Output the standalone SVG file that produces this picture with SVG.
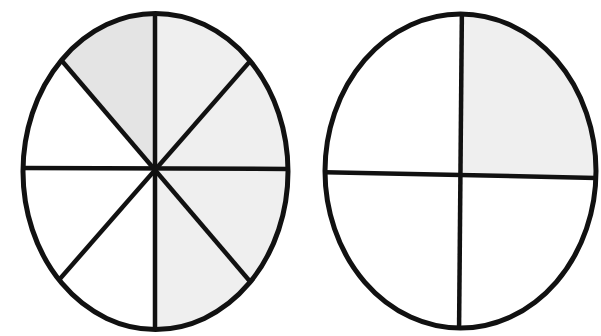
<svg xmlns="http://www.w3.org/2000/svg" width="601" height="336" viewBox="0 0 601 336">
<style>
.rim{fill:none;stroke:#111;stroke-width:5}
.div{stroke:#111;stroke-width:4.5}
.shadeA{fill:#e4e4e4}
.shadeB{fill:#efefef}
</style>
<defs>
<clipPath id="clipL"><ellipse cx="155.5" cy="171.5" rx="132.5" ry="158"/></clipPath>
<clipPath id="clipR"><ellipse cx="460.5" cy="171" rx="135.5" ry="157"/></clipPath>
</defs>
<rect width="601" height="336" fill="#fff"/>
<g id="circle-eighths">
<g clip-path="url(#clipL)">
<polygon class="shadeB" points="155,170 10,0 300,0 300,336 155,336"/>
<polygon class="shadeA" points="155,170 10,0 155,0"/>
<line class="div" x1="155" y1="0" x2="155" y2="336"/>
<line class="div" x1="0" y1="168" x2="300" y2="169"/>
<line class="div" x1="10" y1="0" x2="300" y2="340"/>
<line class="div" x1="300" y1="4" x2="10" y2="336"/>
</g>
<ellipse class="rim" cx="155.5" cy="171.5" rx="132.5" ry="158"/>
</g>
<g id="circle-quarters">
<g clip-path="url(#clipR)">
<polygon class="shadeB" points="461,172 462,0 601,0 601,178"/>
<line class="div" x1="462" y1="0" x2="459" y2="336"/>
<line class="div" x1="310" y1="172" x2="601" y2="178"/>
</g>
<ellipse class="rim" cx="460.5" cy="171" rx="135.5" ry="157"/>
</g>
</svg>
